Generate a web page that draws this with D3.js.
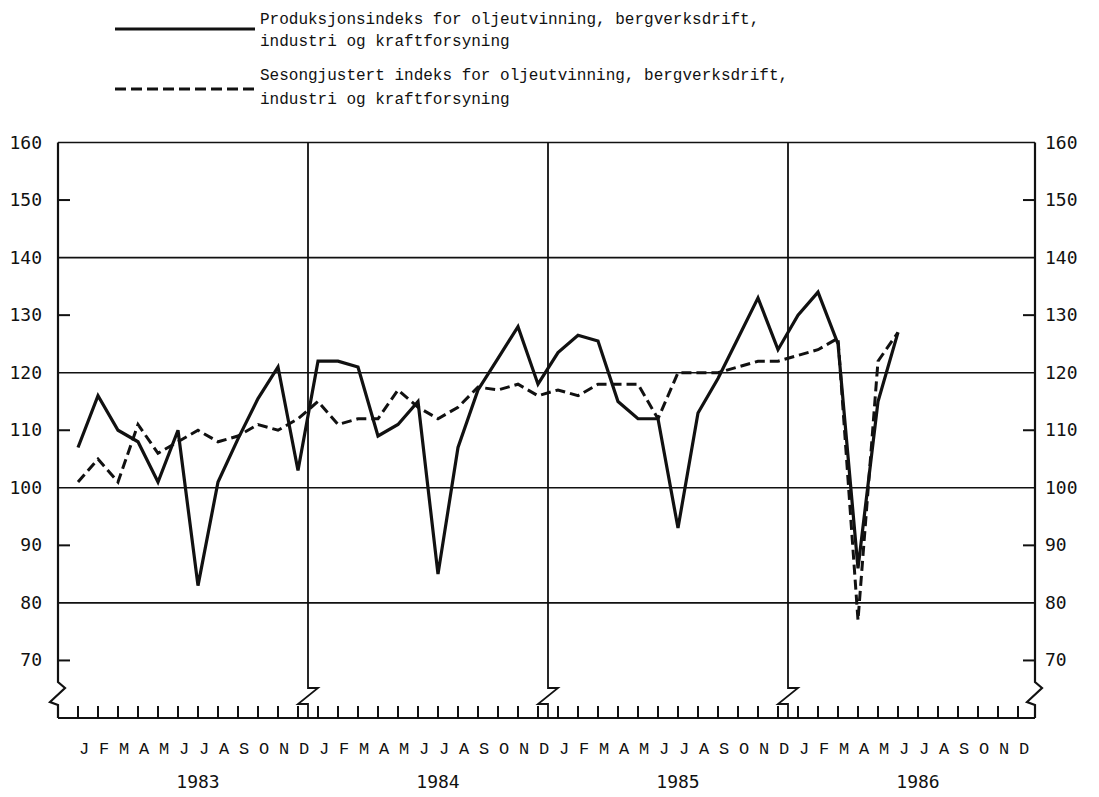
<!DOCTYPE html>
<html>
<head>
<meta charset="utf-8">
<script src="https://cdn.jsdelivr.net/npm/d3@7"></script>
<style>
  body { margin: 0; background: #fff; }
  svg { display: block; }
</style>
</head>
<body>
<svg id="chart" width="1099" height="797"></svg>
<script>
// Month labels along the bottom, Jan 1983 - Dec 1986
const monthLabels = [
  'J','F','M','A','M','J','J','A','S','O','N','D',
  'J','F','M','A','M','J','J','A','S','O','N','D',
  'J','F','M','A','M','J','J','A','S','O','N','D',
  'J','F','M','A','M','J','J','A','S','O','N','D'
];
const years = ['1983', '1984', '1985', '1986'];

// Produksjonsindeks (solid), Jan 1983 - Jun 1986
const production = [
  107, 116, 110, 108, 101, 110, 83, 101, 108.5, 115.5, 121, 103,
  122, 122, 121, 109, 111, 115, 85, 107, 117, 122.5, 128, 118,
  123.5, 126.5, 125.5, 115, 112, 112, 93, 113, 119, 126, 133, 124,
  130, 134, 125, 86, 115, 127
];

// Sesongjustert indeks (dashed), Jan 1983 - Jun 1986
const seasonal = [
  101, 105, 101, 111, 106, 108, 110, 108, 109, 111, 110, 112,
  115, 111, 112, 112, 117, 114, 112, 114, 117.5, 117, 118, 116,
  117, 116, 118, 118, 118, 112, 120, 120, 120, 121, 122, 122,
  123, 124, 126, 77, 122, 127
];

const yTicks = [70, 80, 90, 100, 110, 120, 130, 140, 150, 160];
const gridValues = [80, 100, 120, 140];

const legendItems = [
  { dash: null, lines: ['Produksjonsindeks for oljeutvinning, bergverksdrift,', 'industri og kraftforsyning'] },
  { dash: '11,5', lines: ['Sesongjustert indeks for oljeutvinning, bergverksdrift,', 'industri og kraftforsyning'] }
];

const svg = d3.select('#chart');
const ink = '#111';

const x = d3.scaleLinear().domain([0, 47]).range([78, 1018]);
const y = d3.scaleLinear().domain([60, 160]).range([718, 142.5]);

const plotLeft = x(-1);
const plotRight = 1035;
const plotTop = y(160);
const plotBottom = y(60);

// gridlines
svg.append('g')
  .selectAll('line')
  .data(gridValues)
  .enter()
  .append('line')
  .attr('x1', plotLeft)
  .attr('x2', plotRight)
  .attr('y1', d => y(d))
  .attr('y2', d => y(d))
  .attr('stroke', ink)
  .attr('stroke-width', 1.6);

// frame: top line and bottom axis line
svg.append('line')
  .attr('x1', plotLeft).attr('x2', plotRight)
  .attr('y1', plotTop).attr('y2', plotTop)
  .attr('stroke', ink).attr('stroke-width', 1.6);
svg.append('line')
  .attr('x1', plotLeft).attr('x2', plotRight)
  .attr('y1', plotBottom).attr('y2', plotBottom)
  .attr('stroke', ink).attr('stroke-width', 2.2);

// left and right axes with the break symbol near the bottom
function axisBreak(px) {
  return `M${px},${plotTop} V${plotBottom - 36} L${px + 7},${plotBottom - 30} L${px - 8},${plotBottom - 16} L${px},${plotBottom - 13} V${plotBottom}`;
}
svg.append('path').attr('d', axisBreak(plotLeft))
  .attr('fill', 'none').attr('stroke', ink).attr('stroke-width', 2.2);
svg.append('path').attr('d', axisBreak(plotRight))
  .attr('fill', 'none').attr('stroke', ink).attr('stroke-width', 2.2);

// year dividers, each with a small break at the bottom
const dividers = [11.5, 23.5, 35.5];
svg.append('g')
  .selectAll('path')
  .data(dividers)
  .enter()
  .append('path')
  .attr('d', d => {
    const px = x(d);
    return `M${px},${plotTop} V${plotBottom - 30} L${px + 10},${plotBottom - 30} L${px - 10},${plotBottom - 14} H${px} V${plotBottom}`;
  })
  .attr('fill', 'none')
  .attr('stroke', ink)
  .attr('stroke-width', 1.8);

// y ticks (short marks pointing inwards), left and right
const minorTicks = yTicks.filter(v => gridValues.indexOf(v) < 0 && v !== 160);
svg.append('g')
  .selectAll('line')
  .data(minorTicks)
  .enter()
  .append('line')
  .attr('x1', plotLeft).attr('x2', plotLeft + 12)
  .attr('y1', d => y(d)).attr('y2', d => y(d))
  .attr('stroke', ink).attr('stroke-width', 2);
svg.append('g')
  .selectAll('line')
  .data(minorTicks)
  .enter()
  .append('line')
  .attr('x1', plotRight - 12).attr('x2', plotRight)
  .attr('y1', d => y(d)).attr('y2', d => y(d))
  .attr('stroke', ink).attr('stroke-width', 2);

// y tick labels
const labelFont = 'DejaVu Sans Mono, monospace';
svg.append('g')
  .selectAll('text')
  .data(yTicks)
  .enter()
  .append('text')
  .attr('x', plotLeft - 16)
  .attr('y', d => y(d) + 6)
  .attr('text-anchor', 'end')
  .attr('font-family', labelFont)
  .attr('font-size', 18)
  .attr('fill', ink)
  .text(d => d);
svg.append('g')
  .selectAll('text')
  .data(yTicks)
  .enter()
  .append('text')
  .attr('x', plotRight + 10)
  .attr('y', d => y(d) + 6)
  .attr('text-anchor', 'start')
  .attr('font-family', labelFont)
  .attr('font-size', 18)
  .attr('fill', ink)
  .text(d => d);

// month ticks on the bottom axis
svg.append('g')
  .selectAll('line')
  .data(monthLabels)
  .enter()
  .append('line')
  .attr('x1', (d, i) => x(i)).attr('x2', (d, i) => x(i))
  .attr('y1', plotBottom).attr('y2', plotBottom - 12)
  .attr('stroke', ink).attr('stroke-width', 2);

// month labels (typewritten, slightly drifting to the right)
const xl = d3.scaleLinear().domain([0, 47]).range([84, 1024]);
svg.append('g')
  .selectAll('text')
  .data(monthLabels)
  .enter()
  .append('text')
  .attr('x', (d, i) => xl(i))
  .attr('y', 754)
  .attr('text-anchor', 'middle')
  .attr('font-family', 'Liberation Mono, monospace')
  .attr('font-size', 17)
  .attr('fill', ink)
  .text(d => d);

// year labels
svg.append('g')
  .selectAll('text')
  .data(years)
  .enter()
  .append('text')
  .attr('x', (d, i) => xl(i * 12 + 5.5) + 4)
  .attr('y', 788)
  .attr('text-anchor', 'middle')
  .attr('font-family', labelFont)
  .attr('font-size', 18)
  .attr('fill', ink)
  .text(d => d);

// series lines
const line = d3.line()
  .x((d, i) => x(i))
  .y(d => y(d));

svg.append('path')
  .datum(seasonal)
  .attr('d', line)
  .attr('fill', 'none')
  .attr('stroke', ink)
  .attr('stroke-width', 3)
  .attr('stroke-dasharray', '10,5')
  .attr('stroke-linejoin', 'miter');

svg.append('path')
  .datum(production)
  .attr('d', line)
  .attr('fill', 'none')
  .attr('stroke', ink)
  .attr('stroke-width', 3.2)
  .attr('stroke-linejoin', 'miter');

// legend
const legend = svg.append('g');
legendItems.forEach((item, k) => {
  const base = 24 + k * 56;
  legend.append('line')
    .attr('x1', 115).attr('x2', 255)
    .attr('y1', base + 5 + k * 4).attr('y2', base + 5 + k * 4)
    .attr('stroke', ink)
    .attr('stroke-width', 3)
    .attr('stroke-dasharray', item.dash);
  legend.selectAll(null)
    .data(item.lines)
    .enter()
    .append('text')
    .attr('x', 260)
    .attr('y', (d, j) => base + j * (22 + k * 2))
    .attr('font-family', 'Liberation Mono, monospace')
    .attr('font-size', 16)
    .attr('fill', ink)
    .text(d => d);
});
</script>
</body>
</html>
